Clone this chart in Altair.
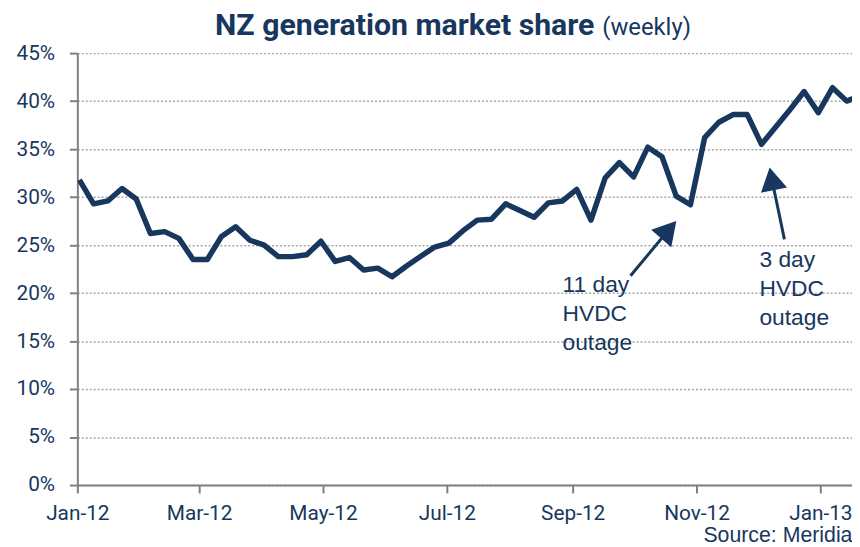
import altair as alt
import pandas as pd

# ---- data ----
first_week = "2012-01-02"
share = [
    31.8, 29.3, 29.6, 30.9, 29.8, 26.2, 26.4, 25.7, 23.5, 23.5,
    25.9, 26.9, 25.5, 25.0, 23.8, 23.8, 24.0, 25.4, 23.3, 23.7,
    22.4, 22.6, 21.7, 22.8, 23.8, 24.8, 25.2, 26.5, 27.6, 27.7,
    29.3, 28.6, 27.9, 29.4, 29.6, 30.8, 27.6, 32.0, 33.6, 32.1,
    35.2, 34.2, 30.1, 29.2, 36.2, 37.8, 38.6, 38.6, 35.5, 37.3,
    39.1, 41.0, 38.8, 41.4, 40.0, 40.6,
]
weeks = pd.date_range(first_week, periods=len(share), freq="7D")

y_ticks = [0, 5, 10, 15, 20, 25, 30, 35, 40, 45]
x_tick_months = [(2012, 1), (2012, 3), (2012, 5), (2012, 7), (2012, 9), (2012, 11), (2013, 1)]

note_text = ["11 day\nHVDC\noutage", "3 day\nHVDC\noutage"]
note_date = ["2012-08-27T00:00:00", "2012-12-02T00:00:00"]
note_value = [20.1, 22.7]

arrow_tail_date = ["2012-09-29T12:00:00", "2012-12-14T07:00:00"]
arrow_tail_value = [21.8, 25.6]
arrow_head_date = ["2012-10-18T08:00:00", "2012-12-08T02:00:00"]
arrow_head_value = [26.6, 31.9]
arrow_angle = [41, 349]

title_main = "NZ generation market share"
title_sub = "(weekly)"
source_text = "Source: Meridian"

# ---- styling ----
NAVY = "#17375E"
GRAY = "#808080"
NARROW = "Roboto, Liberation Sans, sans-serif"
ARIAL = "Liberation Sans, Arial, sans-serif"

df = pd.DataFrame({"week": weeks, "share": share})
notes = pd.DataFrame({"date": pd.to_datetime(note_date), "value": note_value, "text": note_text})
arrows = pd.DataFrame({
    "t0": pd.to_datetime(arrow_tail_date), "v0": arrow_tail_value,
    "t1": pd.to_datetime(arrow_head_date), "v1": arrow_head_value,
    "angle": arrow_angle,
})

x_scale = alt.Scale(domain=[alt.DateTime(year=2012, month=1, date=1),
                            alt.DateTime(year=2013, month=1, date=16, hours=14)])
y_scale = alt.Scale(domain=[0, 45], nice=False)

x_axis = alt.Axis(
    values=[alt.DateTime(year=y, month=m, date=1) for y, m in x_tick_months],
    format="%b-%y", title=None, grid=False,
    labelFont=NARROW, labelFontSize=21, labelColor=NAVY, labelPadding=10,
    labelFlush=False, labelOverlap=False,
    tickSize=8, tickWidth=2, tickColor=GRAY,
    domainColor=GRAY, domainWidth=2,
)
y_axis = alt.Axis(
    values=y_ticks, labelExpr="datum.value + '%'", title=None,
    labelFont=NARROW, labelFontSize=21, labelColor=NAVY, labelPadding=15,
    tickSize=8, tickWidth=2, tickColor=GRAY,
    domainColor=GRAY, domainWidth=2,
    grid=True, gridColor="#a6a6a6", gridDash=[2, 2], gridWidth=1.5,
)

line = alt.Chart(df).mark_line(
    color=NAVY, strokeWidth=5.5, strokeJoin="round", clip=True
).encode(
    x=alt.X("week:T", scale=x_scale, axis=x_axis),
    y=alt.Y("share:Q", scale=y_scale, axis=y_axis),
)

arrow_lines = alt.Chart(arrows).mark_rule(color=NAVY, strokeWidth=3).encode(
    x="t0:T", x2="t1:T", y="v0:Q", y2="v1:Q"
)
arrow_heads = alt.Chart(arrows).mark_point(
    shape="triangle-up", filled=True, color=NAVY, opacity=1, size=720
).encode(
    x="t1:T", y="v1:Q", angle=alt.Angle("angle:Q", scale=None)
)

note_marks = alt.Chart(notes).mark_text(
    align="left", baseline="alphabetic", font=ARIAL, fontSize=23,
    lineBreak="\n", lineHeight=29, color=NAVY
).encode(x="date:T", y="value:Q", text="text:N")

title_df = pd.DataFrame({"a": [0]})
title1 = alt.Chart(title_df).mark_text(
    align="left", baseline="alphabetic", font=NARROW, fontSize=30.5,
    fontWeight="bold", color=NAVY
).encode(x=alt.value(139), y=alt.value(-18), text=alt.value(title_main))
title2 = alt.Chart(title_df).mark_text(
    align="left", baseline="alphabetic", font=NARROW, fontSize=24,
    color=NAVY
).encode(x=alt.value(530), y=alt.value(-18), text=alt.value(title_sub))
source = alt.Chart(title_df).mark_text(
    align="left", baseline="alphabetic", font=ARIAL, fontSize=21.5,
    color=NAVY
).encode(x=alt.value(632), y=alt.value(494), text=alt.value(source_text))

chart = alt.layer(
    line, arrow_lines, arrow_heads, note_marks, title1, title2, source
).properties(
    width=782, height=436,
    autosize=alt.AutoSizeParams(type="none"),
    padding={"left": 70, "top": 43, "right": 0, "bottom": 60},
    background="white",
).configure_view(stroke=None)

chart.save("out.html", embed_options={"renderer": "svg", "actions": False})
